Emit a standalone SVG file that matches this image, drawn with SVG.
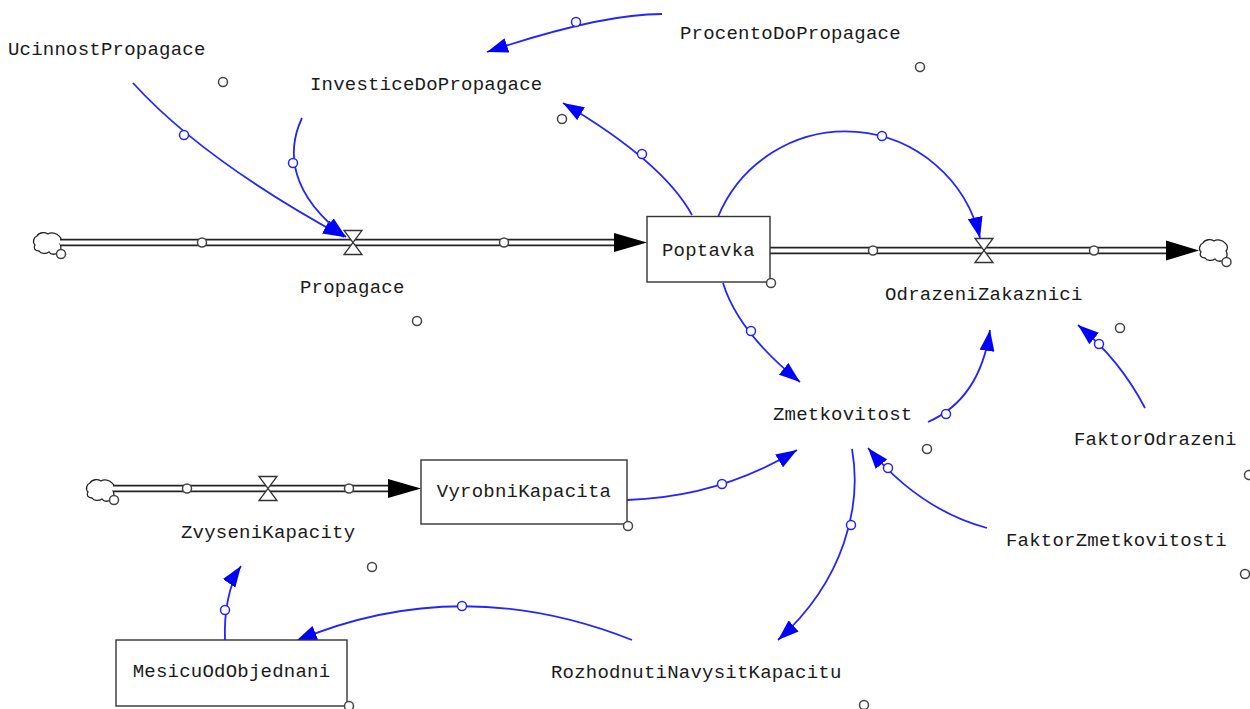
<svg xmlns="http://www.w3.org/2000/svg" width="1250" height="709" viewBox="0 0 1250 709">
  <style>
    .lbl { font-family: "Liberation Mono", "Courier New", monospace; font-size: 19px; letter-spacing: 0.22px; fill: #1a1a1a; }
    .mid { text-anchor: middle; }
    .box { fill: #ffffff; stroke: #333333; stroke-width: 1.4; }
    .pipeOuter { stroke: #222222; stroke-width: 7.5; fill: none; }
    .pipeInner { stroke: #ffffff; stroke-width: 4; fill: none; }
    .valve { fill: #ffffff; stroke: #333333; stroke-width: 1.3; }
    .cloud { fill: #ffffff; stroke: #222222; stroke-width: 1.3; }
    .link { fill: none; stroke: #2424ff; stroke-width: 1.8; }
    .lhandle { fill: #ffffff; stroke: #2424ff; stroke-width: 1.5; }
    .handle { fill: #ffffff; stroke: #444444; stroke-width: 1.5; }
    .pipeHead { fill: #000000; }
  </style>
  <defs>
    <marker id="arr" viewBox="0 0 21 15" refX="21" refY="7.5" markerWidth="21" markerHeight="15" markerUnits="userSpaceOnUse" orient="auto">
      <path d="M0,0 L21,7.5 L0,15 Z" fill="#0000ff"/>
    </marker>
    <path id="cloudShape" d="M4,4 C6,0 12,0 15,2 C18,0 24,1 26,4 C29,6 29,10 27,12 C29,15 28,20 25,20 C23,23 18,23 16,20 C13,22 8,22 6,19 C2,19 0,16 2,13 C-1,10 1,5 4,4 Z"/>
    <path id="valveShape" d="M-9,-12 H9 L-9,12 H9 Z"/>
  </defs>

  <rect width="1250" height="709" fill="#ffffff"/>

  <!-- material flows -->
  <g id="flows">
    <g id="flow-propagace">
      <use href="#cloudShape" class="cloud" transform="translate(33,232)"/>
      <line x1="60" y1="242.5" x2="616" y2="242.5" class="pipeOuter"/>
      <line x1="60" y1="242.5" x2="616" y2="242.5" class="pipeInner"/>
      <path d="M614,233 L647,242.5 L614,252 Z" class="pipeHead"/>
      <use href="#valveShape" class="valve" transform="translate(353,242.5)"/>
      <circle cx="202" cy="242.5" r="4.5" class="handle"/>
      <circle cx="504" cy="242.5" r="4.5" class="handle"/>
      <circle cx="61" cy="254" r="4.5" class="handle"/>
    </g>
    <g id="flow-odrazeni">
      <line x1="770" y1="250.5" x2="1168" y2="250.5" class="pipeOuter"/>
      <line x1="770" y1="250.5" x2="1168" y2="250.5" class="pipeInner"/>
      <path d="M1166,240.5 L1199,250.5 L1166,260.5 Z" class="pipeHead"/>
      <use href="#cloudShape" class="cloud" transform="translate(1199,239)"/>
      <use href="#valveShape" class="valve" transform="translate(984,250.5)"/>
      <circle cx="873" cy="250.5" r="4.5" class="handle"/>
      <circle cx="1094" cy="250.5" r="4.5" class="handle"/>
      <circle cx="1226.5" cy="262" r="4.5" class="handle"/>
    </g>
    <g id="flow-zvyseni">
      <use href="#cloudShape" class="cloud" transform="translate(86,479)"/>
      <line x1="113" y1="488.5" x2="390" y2="488.5" class="pipeOuter"/>
      <line x1="113" y1="488.5" x2="390" y2="488.5" class="pipeInner"/>
      <path d="M388,479 L421,488.5 L388,498 Z" class="pipeHead"/>
      <use href="#valveShape" class="valve" transform="translate(268,488.5)"/>
      <circle cx="187" cy="488.5" r="4.5" class="handle"/>
      <circle cx="349" cy="488.5" r="4.5" class="handle"/>
      <circle cx="114" cy="500" r="4.5" class="handle"/>
    </g>
  </g>

  <!-- information links -->
  <g id="connectors">
    <path d="M133,83 Q203,160 344,237" class="link" marker-end="url(#arr)"/>
    <path d="M302,118 C286,152 290,195 346,237" class="link" marker-end="url(#arr)"/>
    <path d="M662,14 Q600,14 487,52" class="link" marker-end="url(#arr)"/>
    <path d="M692,215 Q663,162 563,103" class="link" marker-end="url(#arr)"/>
    <path d="M718,217 A138,138 0 0 1 980,238" class="link" marker-end="url(#arr)"/>
    <path d="M723,283 Q738,332 800,382" class="link" marker-end="url(#arr)"/>
    <path d="M928,422 Q980,399 990,330" class="link" marker-end="url(#arr)"/>
    <path d="M1145,408 Q1120,360 1078,325" class="link" marker-end="url(#arr)"/>
    <path d="M987,528 Q920,510 868,448" class="link" marker-end="url(#arr)"/>
    <path d="M627,500 Q720,497 797,450" class="link" marker-end="url(#arr)"/>
    <path d="M852,449 C862,505 845,580 778,640" class="link" marker-end="url(#arr)"/>
    <path d="M632,640 Q460,572 296,641" class="link" marker-end="url(#arr)"/>
    <path d="M225,640 C224,615 228,585 241,566" class="link" marker-end="url(#arr)"/>

    <circle cx="184" cy="135" r="4.5" class="lhandle"/>
    <circle cx="293" cy="163" r="4.5" class="lhandle"/>
    <circle cx="576" cy="22" r="4.5" class="lhandle"/>
    <circle cx="642" cy="154" r="4.5" class="lhandle"/>
    <circle cx="882" cy="136" r="4.5" class="lhandle"/>
    <circle cx="751" cy="331" r="4.5" class="lhandle"/>
    <circle cx="946" cy="414" r="4.5" class="lhandle"/>
    <circle cx="1099" cy="344" r="4.5" class="lhandle"/>
    <circle cx="888" cy="468" r="4.5" class="lhandle"/>
    <circle cx="722" cy="484" r="4.5" class="lhandle"/>
    <circle cx="851" cy="525" r="4.5" class="lhandle"/>
    <circle cx="462" cy="606" r="4.5" class="lhandle"/>
    <circle cx="225" cy="610" r="4.5" class="lhandle"/>
  </g>

  <!-- stocks -->
  <g id="Poptavka">
    <rect x="647" y="216.5" width="123" height="65.5" class="box"/>
    <text x="708.5" y="256" class="lbl mid">Poptavka</text>
    <circle cx="771" cy="283" r="4.5" class="handle"/>
  </g>
  <g id="VyrobniKapacita">
    <rect x="421" y="460" width="206" height="64" class="box"/>
    <text x="524" y="497" class="lbl mid">VyrobniKapacita</text>
    <circle cx="628" cy="526" r="4.5" class="handle"/>
  </g>
  <g id="MesicuOdObjednani">
    <rect x="116" y="640" width="231" height="66" class="box"/>
    <text x="231.5" y="677" class="lbl mid">MesicuOdObjednani</text>
    <circle cx="349" cy="706" r="4.5" class="handle"/>
  </g>

  <!-- rates and auxiliaries -->
  <g id="Propagace">
    <text x="300" y="293" class="lbl">Propagace</text>
    <circle cx="417" cy="321" r="4.5" class="handle"/>
  </g>
  <g id="OdrazeniZakaznici">
    <text x="885" y="300" class="lbl">OdrazeniZakaznici</text>
    <circle cx="1120" cy="328" r="4.5" class="handle"/>
  </g>
  <g id="ZvyseniKapacity">
    <text x="181" y="538" class="lbl">ZvyseniKapacity</text>
    <circle cx="372" cy="567" r="4.5" class="handle"/>
  </g>
  <g id="UcinnostPropagace">
    <text x="8" y="55" class="lbl">UcinnostPropagace</text>
    <circle cx="223" cy="82" r="4.5" class="handle"/>
  </g>
  <g id="InvesticeDoPropagace">
    <text x="310" y="90" class="lbl">InvesticeDoPropagace</text>
    <circle cx="562" cy="119" r="4.5" class="handle"/>
  </g>
  <g id="ProcentoDoPropagace">
    <text x="680" y="39" class="lbl">ProcentoDoPropagace</text>
    <circle cx="920" cy="67" r="4.5" class="handle"/>
  </g>
  <g id="Zmetkovitost">
    <text x="773" y="420" class="lbl">Zmetkovitost</text>
    <circle cx="927" cy="449" r="4.5" class="handle"/>
  </g>
  <g id="FaktorOdrazeni">
    <text x="1074" y="445" class="lbl">FaktorOdrazeni</text>
    <circle cx="1249" cy="475" r="4.5" class="handle"/>
  </g>
  <g id="FaktorZmetkovitosti">
    <text x="1006" y="546" class="lbl">FaktorZmetkovitosti</text>
    <circle cx="1245" cy="574" r="4.5" class="handle"/>
  </g>
  <g id="RozhodnutiNavysitKapacitu">
    <text x="551" y="678" class="lbl">RozhodnutiNavysitKapacitu</text>
    <circle cx="864" cy="705" r="4.5" class="handle"/>
  </g>
</svg>
